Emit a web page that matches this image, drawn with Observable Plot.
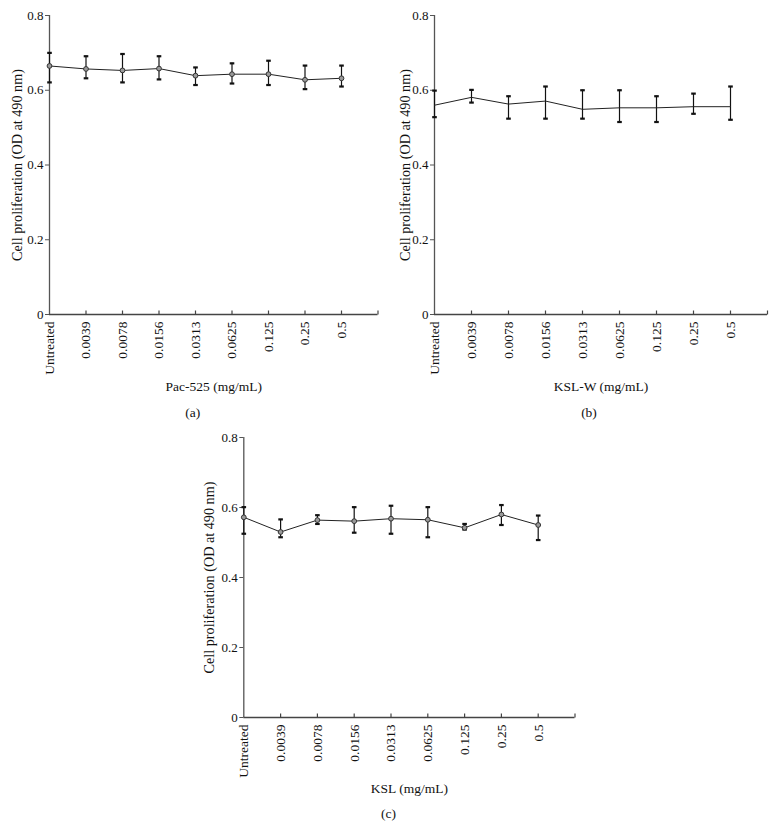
<!DOCTYPE html>
<html>
<head>
<meta charset="utf-8">
<script src="https://cdn.jsdelivr.net/npm/d3@7"></script>
<script src="https://cdn.jsdelivr.net/npm/@observablehq/plot@0.6"></script>
<style>
  body { margin: 0; background: #fff; }
  #root { position: relative; width: 776px; height: 828px; overflow: hidden; background: #fff; }
  #root svg { position: absolute; overflow: visible; }
</style>
</head>
<body>
<div id="root"></div>
<script>
// ---- data ----
const categories = ["Untreated", "0.0039", "0.0078", "0.0156", "0.0313", "0.0625", "0.125", "0.25", "0.5"];
const yTicks = [0, 0.2, 0.4, 0.6, 0.8];
const yLabel = "Cell proliferation (OD at 490 nm)";

const pacMean = [0.665, 0.657, 0.653, 0.658, 0.639, 0.643, 0.643, 0.628, 0.632];
const pacHi   = [0.700, 0.691, 0.697, 0.691, 0.661, 0.672, 0.679, 0.666, 0.666];
const pacLo   = [0.621, 0.632, 0.621, 0.629, 0.614, 0.618, 0.614, 0.603, 0.610];

const kslwMean = [0.560, 0.581, 0.563, 0.571, 0.549, 0.553, 0.553, 0.556, 0.556];
const kslwHi   = [0.599, 0.601, 0.584, 0.610, 0.600, 0.600, 0.584, 0.591, 0.610];
const kslwLo   = [0.528, 0.567, 0.524, 0.524, 0.524, 0.515, 0.515, 0.537, 0.521];

const kslMean = [0.572, 0.530, 0.564, 0.561, 0.568, 0.565, 0.542, 0.580, 0.550];
const kslHi   = [0.601, 0.566, 0.578, 0.601, 0.605, 0.601, 0.553, 0.607, 0.577];
const kslLo   = [0.525, 0.515, 0.553, 0.528, 0.525, 0.515, 0.537, 0.550, 0.507];

const xLabels = ["Pac-525 (mg/mL)", "KSL-W (mg/mL)", "KSL (mg/mL)"];
const captions = ["(a)", "(b)", "(c)"];

// ---- drawing helpers ----
const capSymbol = { draw(ctx) { ctx.rect(-2.3, -1.1, 4.6, 2.2); } };
const upTick = { draw(ctx) { ctx.moveTo(0, 0); ctx.lineTo(0, -4); } };

function panel({mean, hi, lo, markers, xLabel, caption, box}) {
  const rows = categories.map((c, i) => ({i, c, mean: mean[i], hi: hi[i], lo: lo[i]}));
  const slots = d3.range(1, categories.length + 1);
  const marks = [
    Plot.axisY(yTicks, {tickSize: 4, tickPadding: 2, stroke: "#555",
      tickFormat: d => d === 0 ? "0" : d.toFixed(1), label: null}),
    Plot.axisX(d3.range(categories.length), {tickSize: 0, tickPadding: 7, tickRotate: -90,
      fontSize: 13.5, tickFormat: i => categories[i], label: null}),
    Plot.ruleX([0], {stroke: "#555", strokeWidth: 1.3}),
    Plot.ruleY([0], {stroke: "#444", strokeWidth: 1.3}),
    Plot.dot(slots, {x: d => d, y: () => 0, symbol: upTick, fill: "none", stroke: "#444", strokeWidth: 1.2}),
    Plot.text([yLabel], {text: d => d, frameAnchor: "left", rotate: -90, textAnchor: "middle",
      lineAnchor: "middle", dx: box.yLabelDx, fontSize: 14.2}),
    Plot.text([xLabel], {text: d => d, frameAnchor: "bottom", textAnchor: "middle",
      lineAnchor: "middle", dy: box.xLabelDy, fontSize: 13.5}),
    Plot.text([caption], {text: d => d, frameAnchor: "bottom", textAnchor: "middle",
      lineAnchor: "middle", dy: box.capDy, dx: box.capDx, fontSize: 13.5}),
    Plot.ruleX(rows, {x: "i", y1: "lo", y2: "hi", stroke: "#111", strokeWidth: 1.2}),
    Plot.dot(rows, {x: "i", y: "hi", symbol: capSymbol, fill: "#111", stroke: "none"}),
    Plot.dot(rows, {x: "i", y: "lo", symbol: capSymbol, fill: "#111", stroke: "none"}),
    Plot.line(rows, {x: "i", y: "mean", stroke: "#222", strokeWidth: 1})
  ];
  if (markers) {
    marks.push(Plot.dot(rows, {x: "i", y: "mean", r: 2.4, fill: "#9a9a9a", stroke: "#333", strokeWidth: 1}));
  }
  const svg = Plot.plot({
    width: box.width, height: box.height,
    marginTop: box.mt, marginLeft: box.ml, marginRight: box.mr, marginBottom: box.mb,
    style: {fontFamily: "'Liberation Serif', 'Times New Roman', serif", fontSize: "13px", color: "#111", background: "transparent", overflow: "visible"},
    x: {type: "linear", domain: [0, categories.length], label: null},
    y: {domain: [0, 0.8], label: null},
    marks
  });
  svg.style.left = box.left + "px";
  svg.style.top = box.top + "px";
  return svg;
}

const root = document.getElementById("root");
root.appendChild(panel({mean: pacMean, hi: pacHi, lo: pacLo, markers: true,
  xLabel: xLabels[0], caption: captions[0],
  box: {left: 0, top: 0, width: 390, height: 430, mt: 15, ml: 49, mr: 12.5, mb: 116,
        yLabelDx: -32, xLabelDy: 72, capDy: 98, capDx: -21}}));
root.appendChild(panel({mean: kslwMean, hi: kslwHi, lo: kslwLo, markers: false,
  xLabel: xLabels[1], caption: captions[1],
  box: {left: 385, top: 0, width: 391, height: 430, mt: 15, ml: 49, mr: 9, mb: 116,
        yLabelDx: -29, xLabelDy: 72, capDy: 98, capDx: -12}}));
root.appendChild(panel({mean: kslMean, hi: kslHi, lo: kslLo, markers: true,
  xLabel: xLabels[2], caption: captions[2],
  box: {left: 195, top: 420, width: 390, height: 408, mt: 17, ml: 48.3, mr: 10.5, mb: 111,
        yLabelDx: -34, xLabelDy: 71, capDy: 96, capDx: -21}}));
</script>
</body>
</html>
